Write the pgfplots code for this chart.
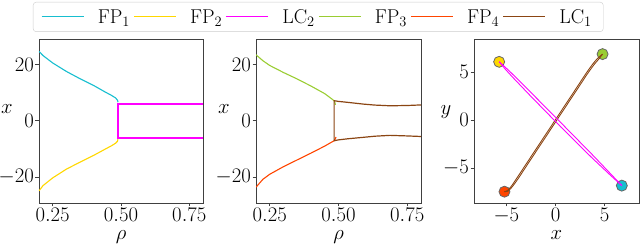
\documentclass[border=0pt]{standalone}
\usepackage{pgfplots}
\pgfplotsset{compat=1.18}
\definecolor{cFPa}{HTML}{17BECF}
\definecolor{cFPb}{HTML}{FFD700}
\definecolor{cLCb}{HTML}{FF00FF}
\definecolor{cFPc}{HTML}{9ACD32}
\definecolor{cFPd}{HTML}{FF4500}
\definecolor{cLCa}{HTML}{8B4513}
\pgfplotsset{
  base/.style={
    scale only axis, height=164pt, anchor=south west,
    axis line style={black!75, line width=0.8pt},
    tick style={black!75, line width=0.8pt},
    major tick length=3.5pt, tick align=outside,
    xtick pos=bottom, ytick pos=left,
    tick label style={font=\fontsize{20}{24}\selectfont, inner sep=1.5pt},
    label style={font=\fontsize{20}{24}\selectfont, inner sep=0.5pt},
    ylabel style={rotate=-90, anchor=center},
    clip mode=individual,
  },
  rho/.style={
    xmin=0.2, xmax=0.8, ymin=-29.2, ymax=29,
    xtick={0.25,0.5,0.75}, ytick={-20,0,20},
    xticklabel style={/pgf/number format/.cd, fixed, fixed zerofill, precision=2},
    xlabel={$\rho$}, ylabel={$x$},
    xlabel style={at={(axis description cs:0.5,-0.222)}, anchor=base},
    ylabel style={at={(axis description cs:-0.195,0.573)}},
  },
}
\begin{document}
\begin{tikzpicture}
\path[use as bounding box] (0,0) rectangle (640pt,245pt);
% Panel 1
\begin{axis}[base, rho, at={(39pt,42pt)}, width=164pt,
  legend columns=6,
  legend style={at={(axis description cs:-0.0366,1.2256)}, anchor=north west,
    font=\fontsize{20}{24}\selectfont, draw=black!20,
    rounded corners=3pt, inner xsep=8pt, inner ysep=4pt,
    nodes={inner xsep=3.5pt, inner ysep=3pt},
    /tikz/column sep=0pt,
    /tikz/every odd column/.append style={column sep=10pt}},
]
\addplot[draw=cFPa, line width=1.1pt, forget plot] coordinates {(0.200,24.6) (0.215,23.1) (0.25,20.5) (0.30,17.5) (0.35,14.9) (0.40,12.5) (0.44,10.3) (0.465,9.0) (0.48,8.1) (0.487,7.3) (0.489,6.6)};
\addplot[draw=cFPb, line width=1.1pt, forget plot] coordinates {(0.200,-24.9) (0.215,-23.0) (0.25,-20.3) (0.30,-17.2) (0.35,-14.7) (0.40,-12.3) (0.44,-10.2) (0.465,-8.9) (0.48,-8.0) (0.487,-7.3) (0.489,-6.6)};
\addplot[draw=cLCb, line width=2pt, forget plot] coordinates {(0.8,6.0) (0.4875,6.0) (0.4875,-6.2) (0.8,-6.2)};
\addlegendimage{legend image code/.code={\draw[draw=cFPa, line width=1.1pt] (0pt,0pt) -- (42pt,0pt);}}
\addlegendentry{FP$_1$}
\addlegendimage{legend image code/.code={\draw[draw=cFPb, line width=1.1pt] (0pt,0pt) -- (42pt,0pt);}}
\addlegendentry{FP$_2$}
\addlegendimage{legend image code/.code={\draw[draw=cLCb, line width=1.1pt] (0pt,0pt) -- (42pt,0pt);}}
\addlegendentry{LC$_2$}
\addlegendimage{legend image code/.code={\draw[draw=cFPc, line width=1.1pt] (0pt,0pt) -- (42pt,0pt);}}
\addlegendentry{FP$_3$}
\addlegendimage{legend image code/.code={\draw[draw=cFPd, line width=1.1pt] (0pt,0pt) -- (42pt,0pt);}}
\addlegendentry{FP$_4$}
\addlegendimage{legend image code/.code={\draw[draw=cLCa, line width=1.1pt] (0pt,0pt) -- (42pt,0pt);}}
\addlegendentry{LC$_1$}
\end{axis}
% Panel 2
\begin{axis}[base, rho, at={(256pt,42pt)}, width=165pt]
\addplot[draw=cFPc, line width=1.1pt] coordinates {(0.2,23.4) (0.225,21.3) (0.25,19.6) (0.3,17.1) (0.35,14.8) (0.4,12.3) (0.45,9.6) (0.484,7.1) (0.4865,6.6) (0.489,5.6)};
\addplot[draw=cFPd, line width=1.1pt] coordinates {(0.2,-23.6) (0.225,-20.8) (0.25,-19.0) (0.3,-16.3) (0.35,-13.9) (0.4,-11.5) (0.45,-9.0) (0.484,-7.1) (0.488,-6.5) (0.491,-5.8)};
\addplot[draw=cLCa, line width=1.2pt] coordinates {(0.8,5.6) (0.75,5.4) (0.687,5.3) (0.632,5.55) (0.59,5.9) (0.535,6.5) (0.5,6.85) (0.484,7.1) (0.484,-7.1) (0.5,-6.8) (0.535,-6.4) (0.59,-5.9) (0.632,-5.5) (0.687,-5.2) (0.75,-5.4) (0.8,-5.6)};
\end{axis}
% Panel 3
\begin{axis}[base, at={(474pt,42pt)}, width=165pt,
  xmin=-8.3, xmax=8.5, ymin=-8.65, ymax=8.45,
  xtick={-5,0,5}, ytick={-5,0,5},
  xlabel={$x$}, ylabel={$y$},
  xlabel style={at={(axis description cs:0.5,-0.222)}, anchor=base},
  ylabel style={at={(axis description cs:-0.17,0.555)}},
]
\addplot[only marks, mark=*, mark size=5.5pt, mark options={fill=cFPa, draw=black!60, line width=0.8pt}] coordinates {(6.75,-6.84)};
\addplot[only marks, mark=*, mark size=5.5pt, mark options={fill=cFPb, draw=black!60, line width=0.8pt}] coordinates {(-5.74,6.07)};
\addplot[only marks, mark=*, mark size=5.5pt, mark options={fill=cFPc, draw=black!60, line width=0.8pt}] coordinates {(4.79,6.875)};
\addplot[only marks, mark=*, mark size=5.5pt, mark options={fill=cFPd, draw=black!60, line width=0.8pt}] coordinates {(-5.2,-7.47)};
\addplot[draw=cLCa, line width=0.9pt, smooth] coordinates {(-5.2,-7.47) (-4.9,-7.35) (-4.5,-6.9) (-3.9,-6.0) (-3.0,-4.6) (-2.0,-3.05) (-0.9,-1.35) (0.1,0.2) (1.1,1.75) (2.2,3.45) (3.1,4.85) (3.8,5.85) (4.3,6.45) (4.79,6.875)};
\addplot[draw=cLCa, line width=0.9pt, smooth] coordinates {(4.79,6.875) (4.4,6.35) (3.9,5.75) (3.2,4.75) (2.3,3.35) (1.2,1.65) (0.2,0.1) (-0.8,-1.45) (-1.9,-3.15) (-2.9,-4.7) (-3.8,-6.1) (-4.4,-6.95) (-4.85,-7.42) (-5.2,-7.47)};
\addplot[draw=cLCb, line width=0.9pt] coordinates {(-5.74,6.07) (-5.115,5.505) (-4.49,4.90) (-2.62,2.99) (0.505,-0.235) (3.63,-3.49) (5.50,-5.49) (6.75,-6.84)};
\addplot[draw=cLCb, line width=0.9pt] coordinates {(6.75,-6.84) (5.50,-5.67) (3.63,-3.86) (0.505,-0.685) (-2.62,2.59) (-4.49,4.60) (-5.115,5.305) (-5.74,6.07)};
\end{axis}
\end{tikzpicture}
\end{document}
